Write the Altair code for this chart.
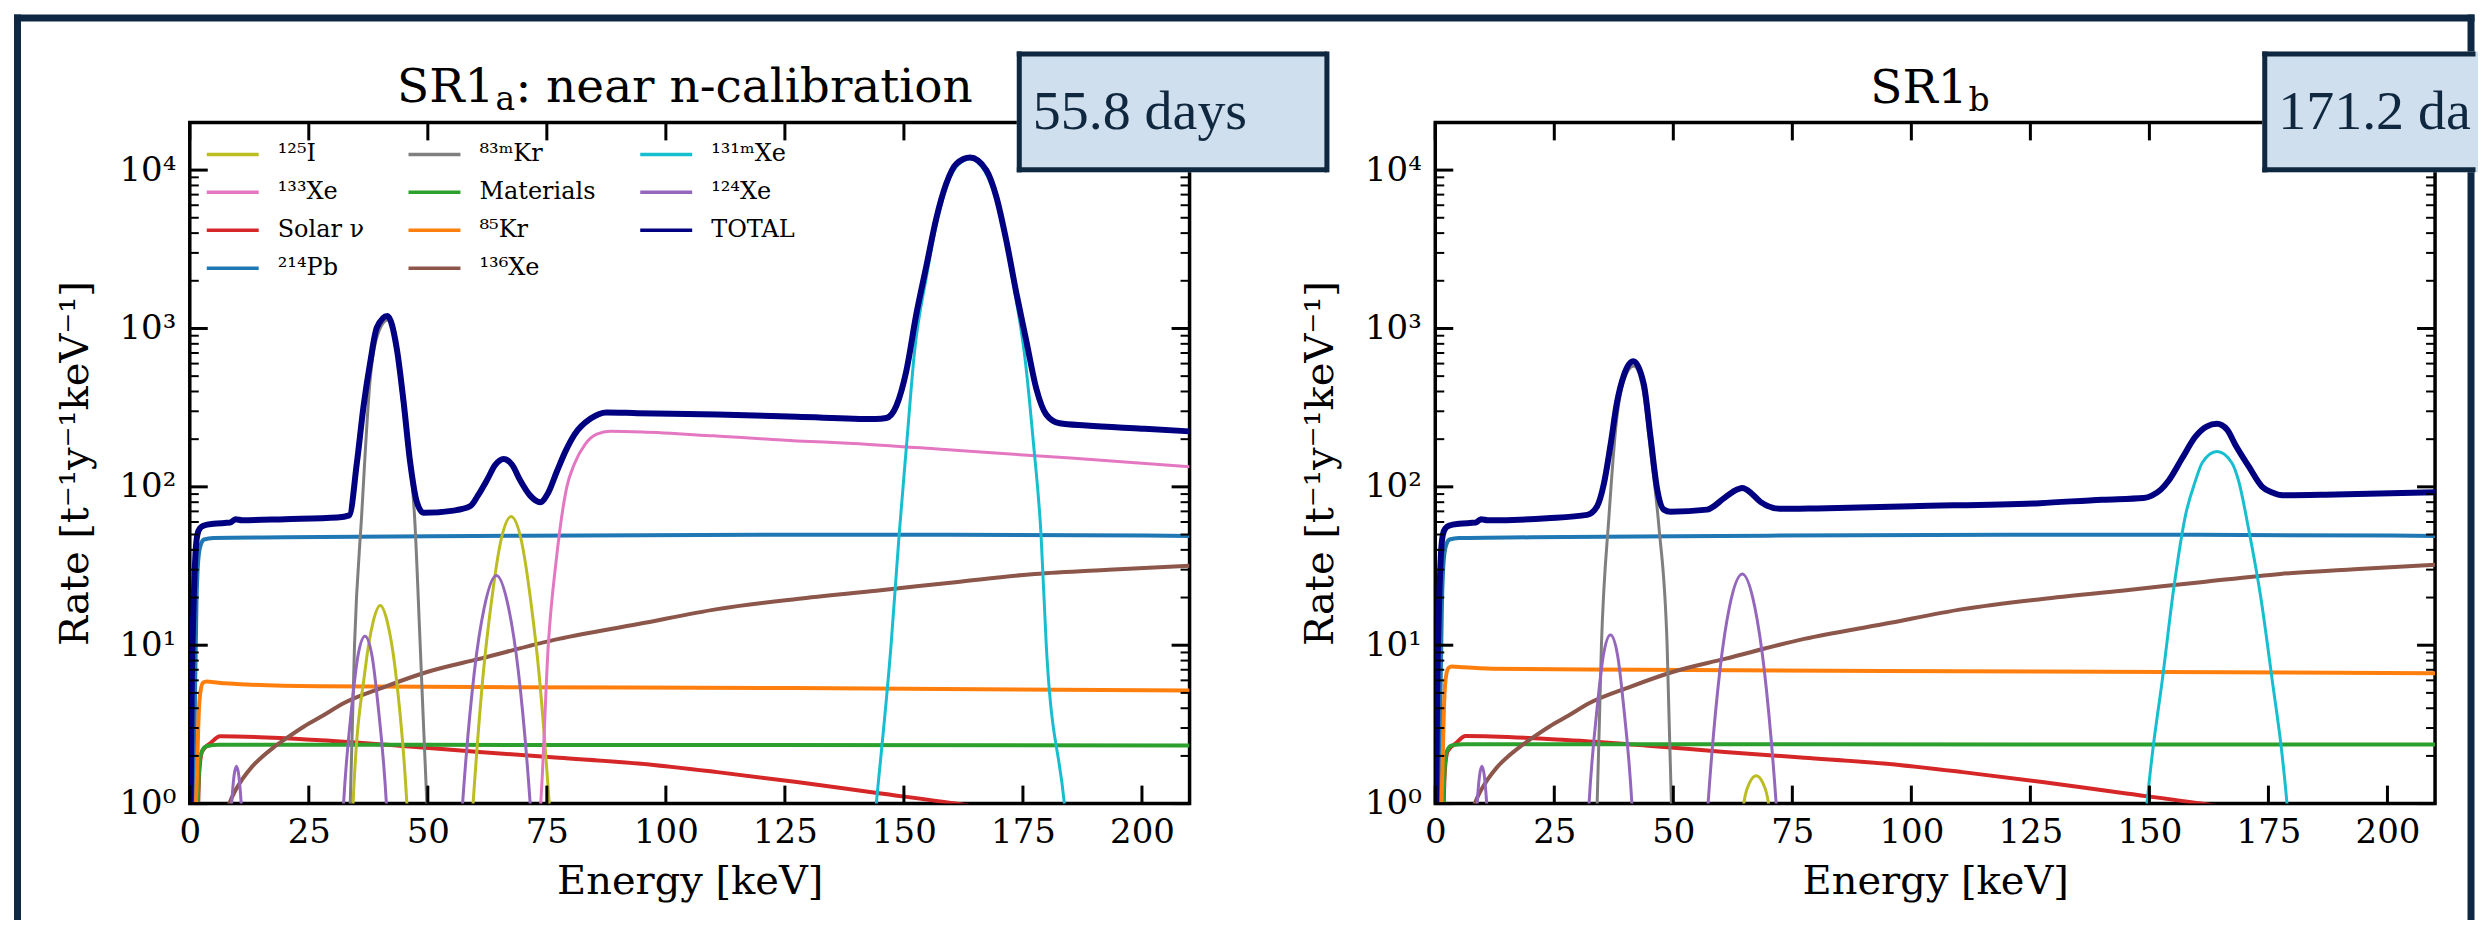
import altair as alt
import pandas as pd

# ---------------- tick values ----------------
X_TICKS = [0, 25, 50, 75, 100, 125, 150, 175, 200]
Y_MAJOR = [1, 10, 100, 1000, 10000]
Y_MINOR = [2, 3, 4, 5, 6, 7, 8, 9,
           20, 30, 40, 50, 60, 70, 80, 90,
           200, 300, 400, 500, 600, 700, 800, 900,
           2000, 3000, 4000, 5000, 6000, 7000, 8000, 9000]

# ---------------- series names / colours ----------------
N_I125 = "¹²⁵I"
N_XE133 = "¹³³Xe"
N_SOLAR = "Solar ν"
N_PB214 = "²¹⁴Pb"
N_KR83M = "⁸³ᵐKr"
N_MAT = "Materials"
N_KR85 = "⁸⁵Kr"
N_XE136 = "¹³⁶Xe"
N_XE131M = "¹³¹ᵐXe"
N_XE124 = "¹²⁴Xe"
N_TOTAL = "TOTAL"

LEGEND_ORDER = [N_I125, N_XE133, N_SOLAR, N_PB214, N_KR83M, N_MAT,
                N_KR85, N_XE136, N_XE131M, N_XE124, N_TOTAL]
LEGEND_COLORS = ["#bcbd22", "#e377c2", "#d62728", "#1f77b4", "#7f7f7f", "#2ca02c",
                 "#ff7f0e", "#8c564b", "#17becf", "#9467bd", "#000080"]

# ---------------- SR1a (left panel) ----------------
A_PB214_E = [0.8, 1.1, 1.4, 1.8, 2.3, 3.0, 5.0, 20, 60, 120, 160, 210]
A_PB214_V = [0.8, 5, 18, 35, 43, 46.5, 47.5, 48, 49, 49.8, 49.8, 49]

A_KR85_E = [1.2, 1.5, 1.8, 2.2, 2.8, 3.5, 6, 12, 27, 60, 127, 210]
A_KR85_V = [0.8, 1.5, 3.2, 5.0, 5.8, 5.9, 5.8, 5.65, 5.5, 5.44, 5.36, 5.18]

A_MAT_E = [1.5, 1.8, 2.1, 2.6, 3.5, 6, 50, 210]
A_MAT_V = [0.8, 1.3, 1.9, 2.15, 2.3, 2.35, 2.35, 2.33]

A_SOLAR_E = [1.7, 2.0, 2.6, 4.3, 6.4, 27.5, 44, 60.8, 77.5, 94.2, 110.8, 127.5, 144, 160.8, 175, 210]
A_SOLAR_V = [0.8, 1.6, 2.14, 2.4, 2.66, 2.51, 2.32, 2.12, 1.95, 1.79, 1.58, 1.37, 1.17, 1.0, 0.85, 0.6]

A_XE136_E = [7.8, 8.3, 9.5, 11, 13, 15, 17.5, 20, 24, 28, 32.3, 40.8, 50, 60.8, 77.5, 94.2,
             110.8, 127.5, 144.2, 160.8, 177.5, 193, 210]
A_XE136_V = [0.9, 1.0, 1.2, 1.42, 1.7, 1.95, 2.25, 2.55, 3.07, 3.6, 4.3, 5.44, 6.8, 8.2, 10.96, 13.6,
             16.9, 19.6, 22.1, 25, 28.2, 30, 31.8]

A_KR83M_E = [33.2, 33.7, 34.6, 36.1, 37.9, 39.3, 41.6, 43.5, 44.9, 46.3, 47.2, 48.4, 49.8, 50.3]
A_KR83M_V = [0.5, 1, 10, 66, 480, 880, 1130, 700, 300, 140, 66, 10, 1, 0.5]

A_I125_E = [34.0, 34.3, 36.8, 38.5, 40.0, 41.5, 43.2, 45.6, 46.0,
            59.0, 59.5, 61.7, 63.3, 65.3, 67.5, 69.7, 71.7, 73.3, 75.5, 76.0]
A_I125_V = [0.6, 1, 6.9, 14, 17.8, 14, 6.9, 1, 0.6,
            0.6, 1, 6.9, 18.2, 45, 65, 45, 18.2, 6.9, 1, 0.6]

A_XE124_E = [8.5, 8.8, 9.8, 10.8, 11.1,
             31.9, 32.3, 34.1, 35.3, 36.8, 38.3, 39.5, 41.3, 41.7,
             56.8, 57.3, 59.8, 61.8, 64.4, 67.0, 69.0, 71.5, 72.0]
A_XE124_V = [0.6, 1, 1.72, 1, 0.6,
             0.6, 1, 4.3, 8.5, 11.4, 8.5, 4.3, 1, 0.6,
             0.6, 1, 6.9, 17, 27.6, 17, 6.9, 1, 0.6]

A_XE133_E = [72.8, 73.7, 75.3, 77.0, 79.2, 80.8, 83.0, 85.5, 88.3, 95, 110, 127.5, 139.3, 160.8, 185, 210]
A_XE133_V = [0.6, 1, 10, 35, 100, 140, 185, 215, 224, 222, 210, 195, 188, 170, 152, 134]

A_XE131M_E = [143.5, 144.2, 147.3, 149.0, 150.6, 152.2, 154.7, 156.8, 158.9, 161.0, 163.9, 167.0,
              169.4, 171.5, 173.6, 175.3, 177.2, 178.8, 179.9, 183.7, 184.4]
A_XE131M_V = [0.6, 1, 10, 50, 190, 700, 2100, 4500, 7800, 10500, 11800, 9800,
              6500, 3400, 1500, 700, 190, 50, 10, 1, 0.6]

A_TOTAL_E = [0.15, 0.4, 0.8, 1.2, 1.6, 2.2, 3.0, 5.0, 8.5, 9.6, 11, 20, 31, 33.5, 35.1, 36.5, 37.9,
             39.3, 41.5, 43.5, 44.9, 46.3, 47.7, 49.1, 55.4, 58.9, 60.5, 62.4, 64.2, 65.9, 67.7,
             69.4, 71.5, 73.6, 75.3, 77.1, 79.0, 80.8, 84.2, 87.5, 94, 110.8, 127.5, 144, 146.3,
             148.4, 150.5, 152.6, 154.7, 156.8, 158.9, 161, 163.9, 167.3, 169.4, 171.5, 173.6,
             175.7, 177.8, 179.9, 182.7, 188.3, 200, 210]
A_TOTAL_V = [0.8, 5, 18, 38, 50, 55, 57, 58.5, 59.5, 62.5, 61.5, 62.5, 64, 66, 142, 323, 611,
             1013, 1200, 740, 346, 142, 80, 68.5, 70.8, 75.5, 88, 110, 138, 150, 138,
             110, 88, 80, 92, 125, 170, 214, 270, 295, 292, 286, 277, 268, 272,
             324, 538, 1227, 2465, 4955, 8226, 10940, 12000, 9990, 6800, 3600, 1686,
             839, 418, 286, 252, 244, 233, 224]

# ---------------- SR1b (right panel) ----------------
B_PB214_E = [0.8, 1.1, 1.4, 1.8, 2.3, 3.0, 5.0, 20, 60, 120, 160, 210]
B_PB214_V = [0.8, 5, 18, 35, 43, 46.5, 47.5, 48, 49, 49.8, 49.8, 49]

B_KR85_E = [1.2, 1.5, 1.8, 2.2, 2.8, 3.5, 6, 12, 43.8, 127, 210]
B_KR85_V = [0.8, 1.6, 3.8, 6.2, 7.2, 7.35, 7.25, 7.1, 7.0, 6.82, 6.66]

B_MAT_E = [1.5, 1.8, 2.1, 2.6, 3.5, 6, 50, 210]
B_MAT_V = [0.8, 1.3, 1.9, 2.2, 2.33, 2.37, 2.37, 2.36]

B_SOLAR_E = [1.7, 2.0, 2.6, 4.3, 6.4, 27.5, 44, 60.8, 77.5, 94.2, 110.8, 127.5, 144, 160.8, 175, 210]
B_SOLAR_V = [0.8, 1.6, 2.14, 2.4, 2.67, 2.52, 2.33, 2.12, 1.95, 1.79, 1.58, 1.37, 1.17, 1.0, 0.85, 0.6]

B_XE136_E = [7.8, 8.3, 9.5, 11, 13, 15, 17.5, 20, 24, 28, 32.3, 40.8, 50, 60.8, 77.5, 94.2,
             110.8, 127.5, 144.2, 160.8, 177.5, 193, 210]
B_XE136_V = [0.9, 1.0, 1.2, 1.42, 1.7, 1.95, 2.25, 2.55, 3.07, 3.6, 4.3, 5.44, 6.8, 8.2, 10.96, 13.6,
             16.9, 19.6, 22.1, 25, 28.2, 30.2, 32.2]

B_KR83M_E = [33.5, 34.0, 34.9, 36.5, 38.0, 39.6, 41.7, 43.7, 45.3, 47.0, 48.7, 49.6, 50.1]
B_KR83M_V = [0.5, 1, 10, 66, 250, 470, 580, 400, 160, 55, 10, 1, 0.5]

B_I125_E = [64.5, 64.8, 66.0, 67.4, 68.8, 70.0, 70.3]
B_I125_V = [0.6, 1, 1.35, 1.5, 1.35, 1, 0.6]

B_XE124_E = [8.5, 8.8, 9.8, 10.8, 11.1,
             31.9, 32.3, 34.1, 35.3, 36.8, 38.3, 39.5, 41.3, 41.7,
             56.8, 57.3, 59.8, 61.8, 64.5, 67.1, 69.1, 71.6, 72.1]
B_XE124_V = [0.6, 1, 1.72, 1, 0.6,
             0.6, 1, 4.3, 8.6, 11.6, 8.6, 4.3, 1, 0.6,
             0.6, 1, 7.0, 17.5, 28.2, 17.5, 7.0, 1, 0.6]

B_XE131M_E = [148.9, 149.5, 150.6, 152.7, 155.1, 157.6, 159.7, 161.1, 164.2, 167.3, 168.7,
              170.9, 173.4, 175.8, 177.9, 178.9, 179.5]
B_XE131M_V = [0.6, 1, 2.04, 6, 22.7, 66.5, 110, 142, 167, 142, 110,
              53, 20, 6, 2.0, 1, 0.6]

B_TOTAL_E = [0.15, 0.4, 0.8, 1.2, 1.6, 2.2, 3.0, 5.0, 8.5, 9.6, 11, 23.5, 31.9, 34.0, 35.4, 36.8,
             38.2, 39.6, 41.6, 43.8, 45.2, 46.6, 48.0, 49.4, 57.1, 60.6, 62.5, 64.5, 66.4, 68.3,
             72.5, 80.2, 100, 127, 140.1, 148.8, 150.6, 152.4, 154.1, 156.9, 159.7, 162.0, 164.2,
             166.3, 168.1, 170.9, 173.7, 175.8, 177.9, 189.1, 210]
B_TOTAL_V = [0.8, 5, 18, 38, 50, 55, 57, 58.5, 59.5, 62.5, 61.5, 63.3, 66.5, 75.5, 104, 183,
             345, 505, 620, 445, 208, 97, 71.8, 69.6, 71.8, 84.6, 93, 98.4, 91, 80.4,
             72.6, 73.1, 75.5, 78.9, 83, 85, 88.4, 96, 110, 152, 208, 240, 250,
             230, 183, 134, 100, 92, 88.4, 89.5, 92.4]

# ---------------- text ----------------
X_TITLE = "Energy [keV]"
Y_TITLE = "Rate [t⁻¹y⁻¹keV⁻¹]"
A_DAYS = "55.8 days"
B_DAYS = "171.2 days"

# ---------------- style ----------------
SERIF = "DejaVu Serif"
W, H = 1001, 682
FRAME = "#0e2843"
BOX_FILL = "#cfdfed"
BOX_EDGE = "#10283f"


def df_of(parts):
    return pd.concat([pd.DataFrame({"E": e, "V": v, "s": n}) for n, e, v in parts],
                     ignore_index=True)


def xenc():
    return alt.X("E:Q", title=X_TITLE,
                 scale=alt.Scale(domain=[0, 210], nice=False, zero=False),
                 axis=alt.Axis(values=X_TICKS, labelFlush=False))


def yenc():
    return alt.Y("V:Q", title=Y_TITLE,
                 scale=alt.Scale(type="log", domain=[1, 20000], nice=False),
                 axis=alt.Axis(values=Y_MAJOR,
                               labelExpr="'10' + ['⁰','¹','²','³','⁴'][round(log(datum.value)/LN10)]"))


def cenc(show_legend):
    sc = alt.Scale(domain=LEGEND_ORDER, range=LEGEND_COLORS)
    if show_legend:
        lg = alt.Legend(orient="none", legendX=15, legendY=13, columns=3, columnPadding=42,
                        rowPadding=0, symbolType="stroke", symbolSize=2704,
                        symbolStrokeWidth=3.5, labelFont=SERIF, labelFontSize=24,
                        labelColor="black", labelOffset=17, clipHeight=38, padding=0,
                        title=None)
        return alt.Color("s:N", scale=sc, legend=lg)
    return alt.Color("s:N", scale=sc, legend=None)


ONE = pd.DataFrame({"k": [0]})


def rule(xv, x2v, yv, y2v, color, sw, cap="butt"):
    enc = {"x": alt.value(xv), "y": alt.value(yv)}
    if x2v is not None:
        enc["x2"] = alt.value(x2v)
    if y2v is not None:
        enc["y2"] = alt.value(y2v)
    return alt.Chart(ONE).mark_rule(color=color, strokeWidth=sw, strokeCap=cap).encode(**enc)


def panel(thick, thin, total, show_legend, days, box_right, title_parts, with_frame):
    layers = []
    if with_frame:
        # outer frame: top, left and right sides (bottom runs off the page)
        layers.append(rule(-172.5, 2284, -104.5, None, FRAME, 7, "square"))
        layers.append(rule(-172.5, None, -104.5, 795, FRAME, 7, "square"))
        layers.append(rule(2284, None, -104.5, 795, FRAME, 7, "square"))
    for parts, sw in ((thick, 4), (thin, 3), (total, 6)):
        layers.append(alt.Chart(df_of(parts)).mark_line(
            clip=True, interpolate="monotone", strokeWidth=sw).encode(
            x=xenc(), y=yenc(), color=cenc(show_legend)))
    xt = pd.DataFrame({"E": X_TICKS})
    ym = pd.DataFrame({"V": Y_MAJOR})
    yn = pd.DataFrame({"V": Y_MINOR})
    layers += [
        alt.Chart(xt).mark_rule(color="black", strokeWidth=3).encode(
            x=xenc(), y=alt.value(H - 18), y2=alt.value(H)),
        alt.Chart(xt).mark_rule(color="black", strokeWidth=3).encode(
            x=xenc(), y=alt.value(0), y2=alt.value(18)),
        alt.Chart(ym).mark_rule(color="black", strokeWidth=3).encode(
            y=yenc(), x=alt.value(0), x2=alt.value(18)),
        alt.Chart(ym).mark_rule(color="black", strokeWidth=3).encode(
            y=yenc(), x=alt.value(W - 18), x2=alt.value(W)),
        alt.Chart(yn).mark_rule(color="black", strokeWidth=2).encode(
            y=yenc(), x=alt.value(0), x2=alt.value(9)),
        alt.Chart(yn).mark_rule(color="black", strokeWidth=2).encode(
            y=yenc(), x=alt.value(W - 9), x2=alt.value(W)),
    ]
    # days box
    layers.append(alt.Chart(ONE).mark_rect(fill=BOX_FILL, strokeWidth=0).encode(
        x=alt.value(828), x2=alt.value(box_right), y=alt.value(-71), y2=alt.value(50)))
    layers.append(rule(828, box_right - 2.5, -68.5, None, BOX_EDGE, 5))
    layers.append(rule(828, box_right - 2.5, 47.5, None, BOX_EDGE, 5))
    layers.append(rule(830.5, None, -71, 50, BOX_EDGE, 5))
    if with_frame:
        layers.append(rule(box_right - 2.5, None, -71, 50, BOX_EDGE, 5))
    layers.append(alt.Chart(ONE).mark_text(
        text=days, font="Liberation Serif", fontSize=56, color=BOX_EDGE,
        align="left", baseline="alphabetic", limit=box_right - 846, ellipsis="\u200b").encode(
        x=alt.value(844), y=alt.value(7)))
    # title pieces
    for txt, xx, yy, fs, al in title_parts:
        layers.append(alt.Chart(ONE).mark_text(
            text=txt, font=SERIF, fontSize=fs, color="black", align=al,
            baseline="alphabetic").encode(x=alt.value(xx), y=alt.value(yy)))
    return alt.layer(*layers).properties(width=W, height=H)


left = panel(
    thick=[(N_SOLAR, A_SOLAR_E, A_SOLAR_V), (N_PB214, A_PB214_E, A_PB214_V),
           (N_MAT, A_MAT_E, A_MAT_V), (N_KR85, A_KR85_E, A_KR85_V),
           (N_XE136, A_XE136_E, A_XE136_V)],
    thin=[(N_I125, A_I125_E, A_I125_V), (N_XE133, A_XE133_E, A_XE133_V),
          (N_KR83M, A_KR83M_E, A_KR83M_V), (N_XE131M, A_XE131M_E, A_XE131M_V),
          (N_XE124, A_XE124_E, A_XE124_V)],
    total=[(N_TOTAL, A_TOTAL_E, A_TOTAL_V)],
    show_legend=True, days=A_DAYS, box_right=1141,
    title_parts=[("SR1", 305, -20, 47, "right"), ("a", 306, -12, 33, "left"),
                 (": near n-calibration", 326, -20, 47, "left")],
    with_frame=True)

right = panel(
    thick=[(N_SOLAR, B_SOLAR_E, B_SOLAR_V), (N_PB214, B_PB214_E, B_PB214_V),
           (N_MAT, B_MAT_E, B_MAT_V), (N_KR85, B_KR85_E, B_KR85_V),
           (N_XE136, B_XE136_E, B_XE136_V)],
    thin=[(N_I125, B_I125_E, B_I125_V), (N_KR83M, B_KR83M_E, B_KR83M_V),
          (N_XE131M, B_XE131M_E, B_XE131M_V), (N_XE124, B_XE124_E, B_XE124_V)],
    total=[(N_TOTAL, B_TOTAL_E, B_TOTAL_V)],
    show_legend=False, days=B_DAYS, box_right=1044,
    title_parts=[("SR1", 533, -19, 47, "right"), ("b", 534, -11, 33, "left")],
    with_frame=False)

chart = alt.hconcat(left, right, spacing=246, bounds="flush", padding=2,
                    background="white").resolve_scale(color="independent").configure_view(
    stroke="black", strokeWidth=3.5).configure_axis(
    labelFont=SERIF, labelFontSize=34, labelColor="black", titleFont=SERIF,
    titleFontSize=40, titleFontWeight="normal", titleColor="black",
    ticks=False, domain=False, grid=False).configure_axisX(
    labelPadding=12, titlePadding=12).configure_axisY(
    labelPadding=14, titlePadding=24)

chart.save("out.html", embed_options={"renderer": "svg", "actions": False})
